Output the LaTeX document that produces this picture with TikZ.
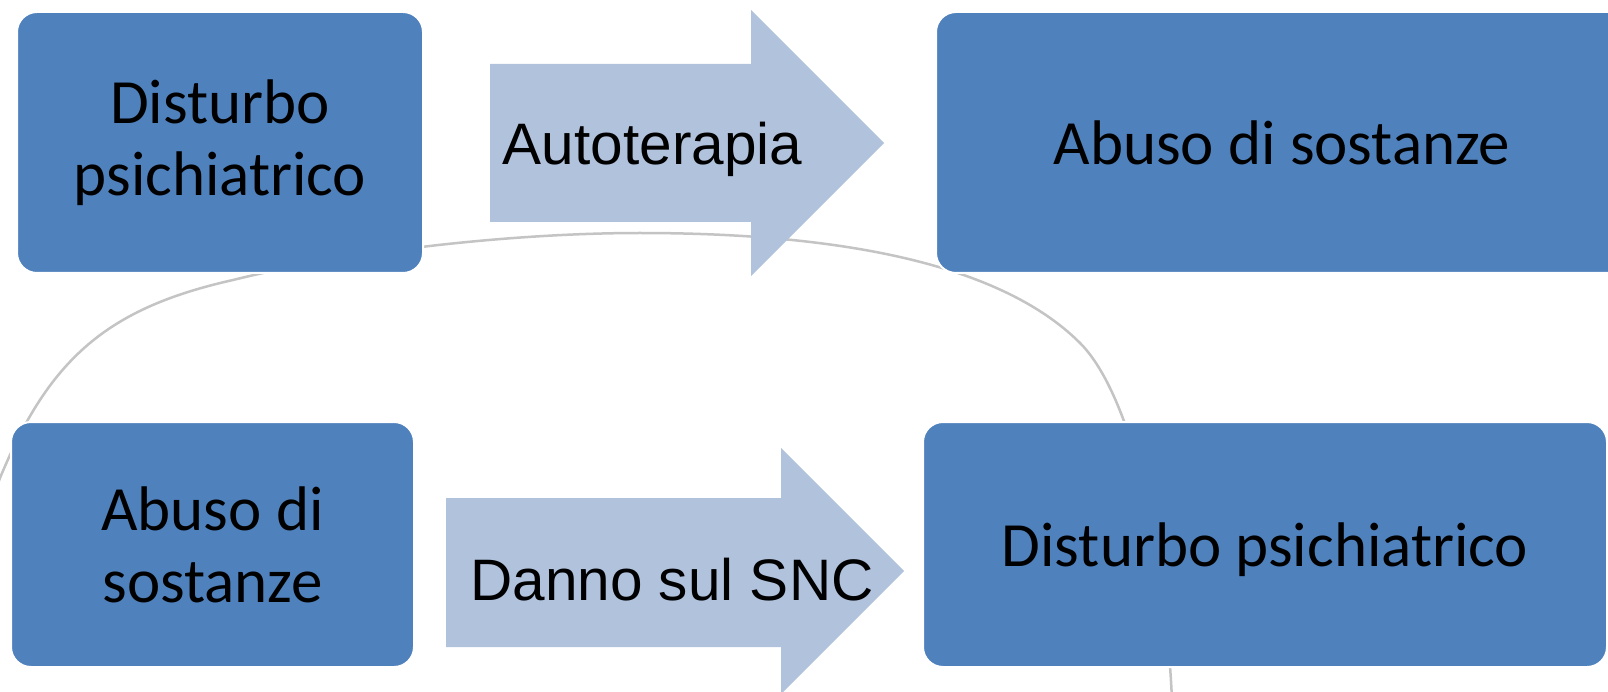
\documentclass[tikz,border=0pt]{standalone}
\usepackage{fontspec}
\newfontfamily\boxfont{Carlito}
\newfontfamily\arrowfont{Liberation Sans}
\definecolor{boxblue}{RGB}{79,129,189}
\definecolor{arrowblue}{RGB}{177,194,221}
\definecolor{ringgray}{RGB}{196,196,196}
\tikzset{
	box/.style={rounded corners=20pt, fill=boxblue, draw=white, line width=2pt, align=center, inner sep=0pt, font=\boxfont\fontsize{63}{72}\selectfont},
	arrowlabel/.style={anchor=base, inner sep=0pt, font=\arrowfont\fontsize{58.5}{66}\selectfont},
	ring/.style={draw=ringgray, line width=2.5pt}
}

\begin{document}
\begin{tikzpicture}[x=1pt, y=-1pt]
			%%%%% START %%%%%
			
			\clip (0, 0) rectangle (1608, 692);
			\fill[white] (0, 0) rectangle (1608, 692);
			
			% ring in the back
			\draw[ring] (-3, 486) -- (0, 478)
				.. controls (49.5, 358) and (108, 308) .. (233, 280)
				.. controls (346, 252) and (509, 233) .. (640, 233)
				.. controls (880, 233) and (1014, 277) .. (1080, 343)
				.. controls (1127, 390) and (1164, 529) .. (1172, 700);
			
			% arrows
			\fill[arrowblue] (490, 64) -- (751, 64) -- (751, 10) -- (884, 143) -- (751, 276) -- (751, 222) -- (490, 222) -- cycle;
			\fill[arrowblue] (446, 498) -- (781, 498) -- (781, 448) -- (904, 571) -- (781, 694) -- (781, 647) -- (446, 647) -- cycle;
			\node[arrowlabel] (auto) at (652.5, 165) {Autoterapia};
			\node[arrowlabel] (snc) at (672, 600) {Danno sul SNC};
			
			% boxes
			\node[box, minimum width=406pt, minimum height=261pt] (psiA) at (220, 142.5) {Disturbo\\psichiatrico};
			\node[box, minimum width=692pt, minimum height=261pt] (abuA) at (1282, 142.5) {Abuso di sostanze};
			\node[box, minimum width=403pt, minimum height=245pt] (abuB) at (212.5, 544.5) {Abuso di\\sostanze};
			\node[box, minimum width=684pt, minimum height=245pt, text depth=0pt] (psiB) at (1265, 544.5) {Disturbo psichiatrico};
			
			%%%%% END %%%%%
\end{tikzpicture}
\end{document}
